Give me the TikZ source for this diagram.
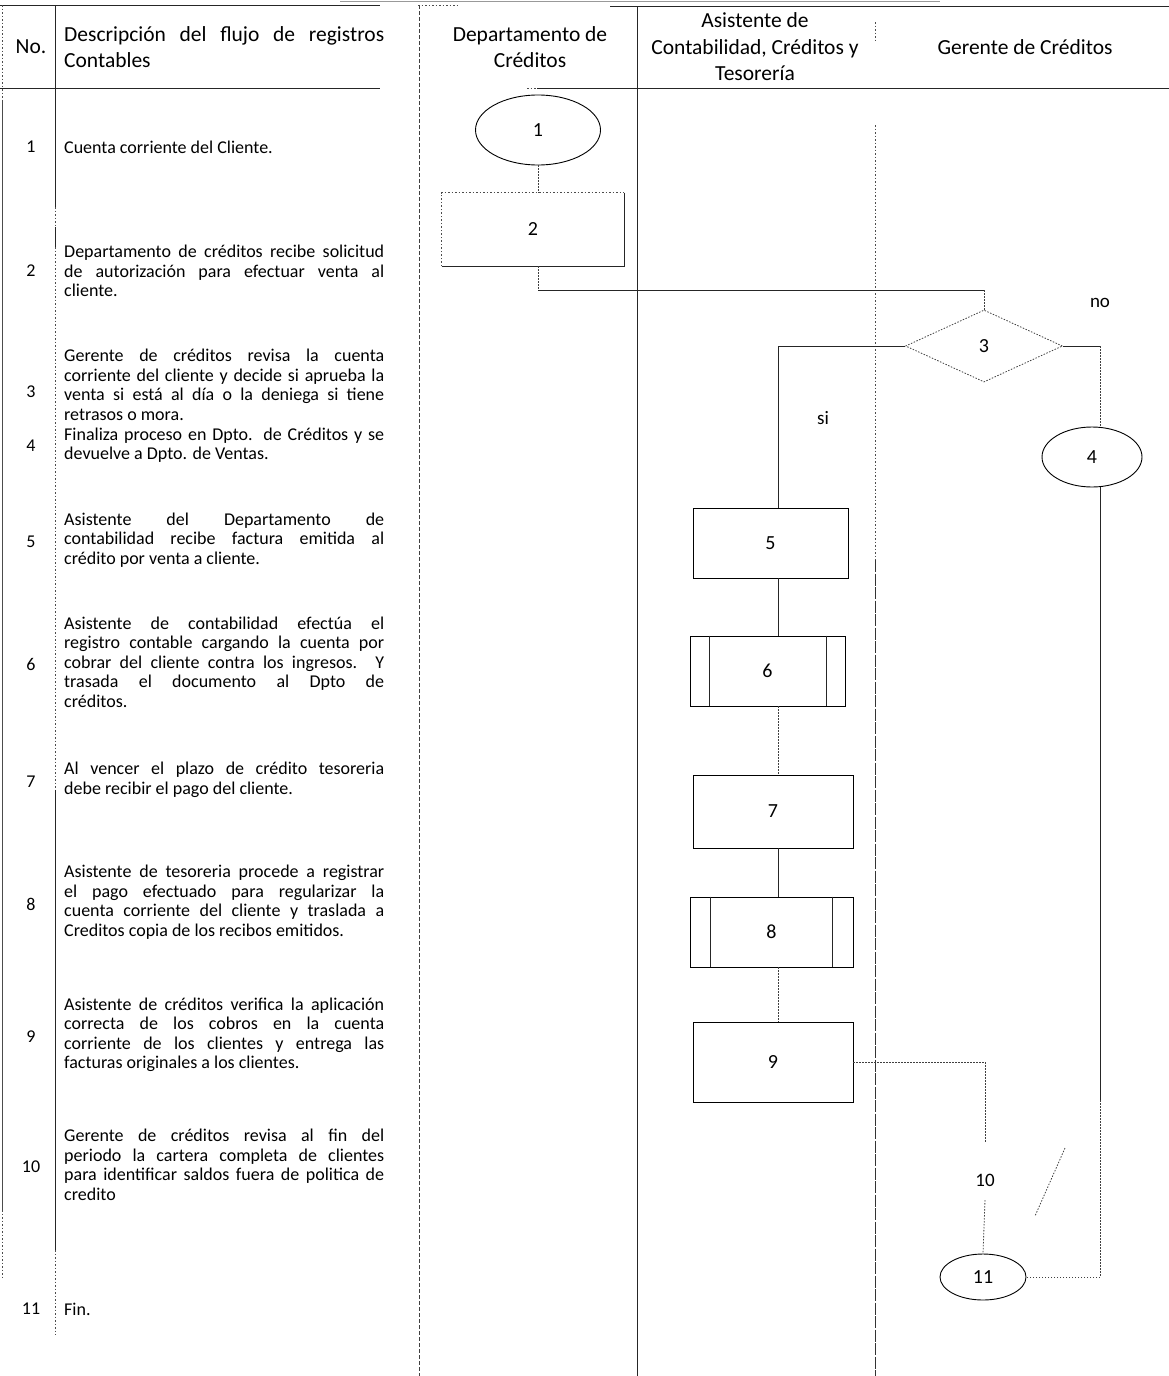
\documentclass[tikz,border=0pt]{standalone}
\usepackage{fontspec}
\setmainfont{Carlito}
\usetikzlibrary{shapes.geometric}
\begin{document}
\begin{tikzpicture}[x=1pt,y=-1pt,
  frame/.style={line width=0.9pt, black!85},
  framedot/.style={line width=0.8pt, black!70, dash pattern=on 1.5pt off 2pt},
  framedash/.style={line width=0.8pt, black!75, dash pattern=on 4pt off 2pt},
  conn/.style={line width=0.8pt, black!85},
  conndot/.style={line width=0.8pt, black!75, dash pattern=on 1.5pt off 1.5pt},
  hdr/.style={font=\fontsize{21.5}{26.5}\selectfont, align=center, inner sep=0pt},
  num/.style={font=\fontsize{18}{19.5}\selectfont, inner sep=0pt},
  desc/.style={font=\fontsize{18}{19.5}\selectfont, text width=320pt, align=justify, anchor=west, inner sep=0pt},
  lbl/.style={font=\fontsize{19}{21}\selectfont, inner sep=0pt},
  procbox/.style={line width=0.9pt, inner sep=0pt, font=\fontsize{20}{22}\selectfont},
  term/.style={draw, ellipse, line width=0.9pt, inner sep=0pt, font=\fontsize{20}{22}\selectfont},
  ]
\useasboundingbox (0,0) rectangle (1169,1376);

% ---------- table frame ----------
\draw[black!40, line width=0.6pt] (340,1.5) -- (940,1.5);
\draw[frame] (0,5) -- (380,5);
\draw[framedot] (418,5) -- (460,5);
\draw[frame] (610,6) -- (1169,6);
\draw[frame] (0,88) -- (380,88);
\draw[framedot] (527,88) -- (537,88);
\draw[frame] (537,88) -- (1169,88);
% left border
\draw[framedot] (2,5) -- (2,100);
\draw[frame, black!70] (2,100) -- (2,1210);
\draw[framedot] (2,1210) -- (2,1280);
% No. / description divider
\draw[frame] (55,5) -- (55,207);
\draw[framedot] (55,207) -- (55,227);
\draw[frame] (55,227) -- (55,247);
\draw[framedot] (55,247) -- (55,790);
\draw[frame] (55,790) -- (55,1250);
\draw[framedot] (55,1250) -- (55,1335);
% lane dividers
\draw[framedash] (419,5) -- (419,1376);
\draw[frame] (637,6) -- (637,1376);
\draw[framedot] (875,22) -- (875,40);
\draw[framedot] (875,125) -- (875,560);
\draw[line width=0.8pt, black!80, dash pattern=on 12pt off 1.5pt] (875,560) -- (875,1376);

% ---------- headers ----------
\node[hdr] (hno) at (31,47) {No.};
\node[hdr, anchor=west, text width=320pt, align=justify] (hdesc) at (64,47)
  {Descripción del flujo de registros\linebreak Contables};
\node[hdr] (hdep) at (530,47) {Departamento de\\Créditos};
\node[hdr] (hasi) at (755,47) {Asistente de\\Contabilidad, Créditos y\\Tesorería};
\node[hdr] (hger) at (1025,47) {Gerente de Créditos};

% ---------- numbers ----------
\node[num] (r1)  at (31,147) {1};
\node[num] (r2)  at (31,271) {2};
\node[num] (r3)  at (31,392) {3};
\node[num] (r4)  at (31,446) {4};
\node[num] (r5)  at (31,542) {5};
\node[num] (r6)  at (31,664) {6};
\node[num] (r7)  at (31,782) {7};
\node[num] (r8)  at (31,904) {8};
\node[num] (r9)  at (31,1037) {9};
\node[num] (r10) at (31,1167) {10};
\node[num] (r11) at (31,1309) {11};

% ---------- descriptions ----------
\node[desc] (d1) at (64,147) {Cuenta corriente del Cliente.};
\node[desc] (d2) at (64,271) {Departamento de créditos recibe solicitud\linebreak de autorización para efectuar venta al\linebreak cliente.};
\node[desc] (d3) at (64,385) {Gerente de créditos revisa la cuenta\linebreak corriente del cliente y decide si aprueba la\linebreak venta si está al día o la deniega si tiene\linebreak retrasos o mora.};
\node[desc] (d4) at (64,445) {Finaliza proceso en Dpto. de Créditos y se\linebreak devuelve a Dpto. de Ventas.};
\node[desc] (d5) at (64,540) {Asistente del Departamento de\linebreak contabilidad recibe factura emitida al\linebreak crédito por venta a cliente.};
\node[desc] (d6) at (64,662) {Asistente de contabilidad efectúa el\linebreak registro contable cargando la cuenta por\linebreak cobrar del cliente contra los ingresos. Y\linebreak trasada el documento al Dpto de\linebreak créditos.};
\node[desc] (d7) at (64,780) {Al vencer el plazo de crédito tesoreria\linebreak debe recibir el pago del cliente.};
\node[desc] (d8) at (64,902) {Asistente de tesoreria procede a registrar\linebreak el pago efectuado para regularizar la\linebreak cuenta corriente del cliente y traslada a\linebreak Creditos copia de los recibos emitidos.};
\node[desc] (d9) at (64,1035) {Asistente de créditos verifica la aplicación\linebreak correcta de los cobros en la cuenta\linebreak corriente de los clientes y entrega las\linebreak facturas originales a los clientes.};
\node[desc] (d10) at (64,1165) {Gerente de créditos revisa al fin del\linebreak periodo la cartera completa de clientes\linebreak para identificar saldos fuera de politica de\linebreak credito};
\node[desc] (d11) at (64,1309) {Fin.};

% ---------- flow shapes ----------
\node[term, minimum width=125pt, minimum height=70pt] (n1) at (538,130) {1};
\node[procbox, minimum width=182pt, minimum height=73pt] (n2) at (533,229.5) {2};
\draw[framedot] (n2.south west) -- (n2.north west) -- (n2.north east);
\draw[conn] (n2.north east) -- (n2.south east) -- (n2.south west);
\node[diamond, draw, line width=0.8pt, black!75, dash pattern=on 1.5pt off 1.5pt,
      aspect=2.2, minimum width=157pt, minimum height=72pt, inner sep=0pt,
      text=black, font=\fontsize{20}{22}\selectfont] (n3) at (984,346) {3};
\node[term, minimum width=100pt, minimum height=60pt] (n4) at (1092,457) {4};
\node[procbox, draw, minimum width=155pt, minimum height=70pt] (n5) at (770.5,543) {5};
\node[procbox, draw, minimum width=155pt, minimum height=70pt] (n6) at (767.5,671) {6};
\draw[conn] ([xshift=20pt]n6.north west) -- ([xshift=20pt]n6.south west);
\draw[conn] ([xshift=-19pt]n6.north east) -- ([xshift=-19pt]n6.south east);
\node[procbox, draw, minimum width=160pt, minimum height=73pt] (n7) at (773,811.5) {7};
\node[procbox, draw, minimum width=163pt, minimum height=70pt] (n8) at (771.5,932) {8};
\draw[conn] ([xshift=21pt]n8.north west) -- ([xshift=21pt]n8.south west);
\draw[conn] ([xshift=-21pt]n8.north east) -- ([xshift=-21pt]n8.south east);
\node[procbox, draw, minimum width=160pt, minimum height=80pt] (n9) at (773,1062) {9};
\node[lbl] (n10) at (985,1180) {10};
\node[term, minimum width=86pt, minimum height=46pt] (n11) at (983,1277) {11};

\node[lbl] (si) at (823,418) {si};
\node[lbl] (no) at (1100,303) {no};

% ---------- connectors ----------
\coordinate (vx) at (778,0);
\coordinate (rx) at (1100,0);
\coordinate (c2) at (538,290);
\coordinate (c3) at (984,290);
\coordinate (c4) at (1100,1100);
\coordinate (c10a) at (985,1143);
\coordinate (c10b) at (985,1200);
\coordinate (d1) at (1065,1148);
\coordinate (d2) at (1035,1216);

\draw[conndot] (n1.south) -- (n2.north -| n1.south);
\draw[conndot] (n2.south -| n1.south) -- (c2);
\draw[conn] (c2) -- (c3);
\draw[conndot] (c3) -- (n3.north);
\draw[conn] (n3.west) -- (n3.west -| vx) -- (n5.north -| vx);
\draw[conn] (n3.east) -- (n3.east -| rx);
\draw[conndot] (n3.east -| rx) -- (n4.north -| rx);
\draw[conn] (n4.south -| rx) -- (c4);
\draw[conndot] (c4) |- (n11.east);
\draw[conn] (n5.south -| vx) -- (n6.north -| vx);
\draw[conndot] (n6.south -| vx) -- (n7.north -| vx);
\draw[conn] (n7.south -| vx) -- (n8.north -| vx);
\draw[conndot] (n8.south -| vx) -- (n9.north -| vx);
\draw[conndot] (n9.east) -| (c10a);
\draw[conndot] (c10b) -- (n11.north);
\draw[conndot] (d1) -- (d2);
\end{tikzpicture}
\end{document}
